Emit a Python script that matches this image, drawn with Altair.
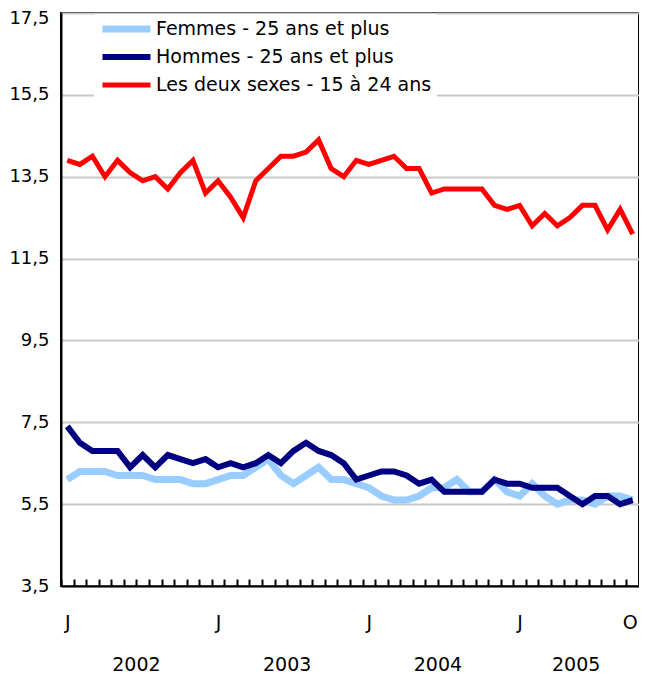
import altair as alt
import pandas as pd

series_names = ["Femmes - 25 ans et plus", "Hommes - 25 ans et plus", "Les deux sexes - 15 à 24 ans"]
series_colors = ["#99ccff", "#000080", "#ff0000"]
series_widths = [7, 5, 5]

months = list(range(46))  # Jan 2002 .. Oct 2005

femmes = [6.1, 6.3, 6.3, 6.3, 6.2, 6.2, 6.2, 6.1, 6.1, 6.1, 6.0, 6.0,
          6.1, 6.2, 6.2, 6.4, 6.6, 6.2, 6.0, 6.2, 6.4, 6.1, 6.1, 6.0,
          5.9, 5.7, 5.6, 5.6, 5.7, 5.9, 5.9, 6.1, 5.8, 5.8, 6.1, 5.8,
          5.7, 6.0, 5.7, 5.5, 5.6, 5.6, 5.5, 5.7, 5.7, 5.6]
hommes = [7.4, 7.0, 6.8, 6.8, 6.8, 6.4, 6.7, 6.4, 6.7, 6.6, 6.5, 6.6,
          6.4, 6.5, 6.4, 6.5, 6.7, 6.5, 6.8, 7.0, 6.8, 6.7, 6.5, 6.1,
          6.2, 6.3, 6.3, 6.2, 6.0, 6.1, 5.8, 5.8, 5.8, 5.8, 6.1, 6.0,
          6.0, 5.9, 5.9, 5.9, 5.7, 5.5, 5.7, 5.7, 5.5, 5.6]
jeunes = [13.9, 13.8, 14.0, 13.5, 13.9, 13.6, 13.4, 13.5, 13.2, 13.6, 13.9, 13.1,
          13.4, 13.0, 12.5, 13.4, 13.7, 14.0, 14.0, 14.1, 14.4, 13.7, 13.5, 13.9,
          13.8, 13.9, 14.0, 13.7, 13.7, 13.1, 13.2, 13.2, 13.2, 13.2, 12.8, 12.7,
          12.8, 12.3, 12.6, 12.3, 12.5, 12.8, 12.8, 12.2, 12.7, 12.1]

month_label_pos = [0, 12, 24, 36, 45]
year_labels = ["2002", "2003", "2004", "2005"]
year_centers = [5.5, 17.5, 29.5, 40.5]
y_ticks = [3.5, 5.5, 7.5, 9.5, 11.5, 13.5, 15.5, 17.5]
tick_bounds = [k - 0.5 for k in range(47)]

rows = []
for name, vals in zip(series_names, [femmes, hommes, jeunes]):
    for m, v in zip(months, vals):
        rows.append({"mois": m, "taux": v, "serie": name})
df = pd.DataFrame(rows)
years_df = pd.DataFrame({"pos": year_centers, "annee": year_labels})

FONT = "DejaVu Sans"
W, H = 578, 573

xscale = alt.Scale(domain=[-0.5, 45.5], nice=False, zero=False)

lines = alt.Chart(df).mark_line(strokeJoin="miter").encode(
    x=alt.X("mois:Q", scale=xscale,
            axis=alt.Axis(orient="bottom", values=month_label_pos, ticks=False, grid=False,
                          labelExpr="datum.value == 45 ? 'O' : 'J'",
                          labelOffset={"condition": {"test": "datum.value == 45", "value": -3}, "value": 0},
                          labelFont=FONT, labelFontSize=19, labelColor="black",
                          labelPadding=27, domain=True, domainColor="black", domainWidth=2,
                          title=None, labelFlush=False)),
    y=alt.Y("taux:Q", scale=alt.Scale(domain=[3.5, 17.5], nice=False, zero=False),
            axis=alt.Axis(values=y_ticks, ticks=False, grid=True, gridColor="#c8c8c8", gridWidth=2,
                          labelExpr="replace(format(datum.value, '.1f'), '.', ',')",
                          labelOffset={"condition": {"test": "datum.value == 17.5", "value": 5}, "value": 0},
                          labelFont=FONT, labelFontSize=18, labelColor="black",
                          labelPadding=12, domainColor="black", domainWidth=2,
                          title=None, labelFlush=False)),
    color=alt.Color("serie:N", scale=alt.Scale(domain=series_names, range=series_colors),
                    legend=alt.Legend(title=None, orient="none", legendX=33, legendY=1,
                                      fillColor="white", padding=5, symbolType="stroke",
                                      symbolSize=2304, symbolStrokeWidth=6, clipHeight=20,
                                      rowPadding=8, labelFont=FONT, labelFontSize=19,
                                      labelColor="black", labelOffset=2, labelLimit=400)),
    strokeWidth=alt.StrokeWidth("serie:N", scale=alt.Scale(domain=series_names, range=series_widths),
                                legend=None),
)

years = alt.Chart(years_df).mark_text(font=FONT, fontSize=19, color="black",
                                      baseline="middle", align="center").encode(
    x=alt.X("pos:Q", scale=xscale,
            axis=alt.Axis(orient="top", offset=-H, values=tick_bounds, labels=False,
                          domain=False, grid=False, ticks=True, tickSize=7,
                          tickColor="black", tickWidth=2, title=None)),
    y=alt.value(652),
    text="annee:N",
)

chart = alt.layer(lines, years).properties(
    width=W, height=H,
    autosize=alt.AutoSizeParams(type="none"),
    padding={"left": 53, "top": 5, "right": 0, "bottom": 91},
).configure_view(stroke="black", strokeWidth=2)

chart.save("out.html", embed_options={"renderer": "svg", "actions": False})
